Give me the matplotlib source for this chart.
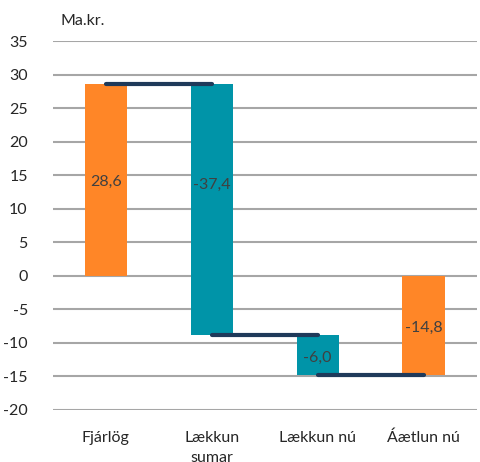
import matplotlib.pyplot as plt
import numpy as np

plt.rcParams['font.family'] = ['Lato', 'DejaVu Sans']
plt.rcParams['axes.unicode_minus'] = False

categories = ['Fjárlög', 'Lækkun\nsumar', 'Lækkun nú', 'Áætlun nú']
values = [28.6, -37.4, -6.0, -14.8]
is_total = [True, False, False, True]
labels = ['28,6', '-37,4', '-6,0', '-14,8']
label_y = [14.0, 13.6, -12.2, -7.8]

orange = '#FF8627'
teal = '#0094A8'
navy = '#1F3A5A'

# waterfall bottoms
bottoms = []
level = 0
for v, t in zip(values, is_total):
    if t:
        bottoms.append(0)
        level = v
    else:
        bottoms.append(level)
        level = level + v
ends = [b + v for b, v in zip(bottoms, values)]
colors = [orange if t else teal for t in is_total]

fig = plt.figure(figsize=(4.8, 4.62), dpi=100)
ax = fig.add_axes([0.110, 0.1126, 0.883, 0.7985])

x = np.arange(len(categories))
ax.bar(x, values, bottom=bottoms, width=0.4, color=colors, zorder=2)

# connector lines
for i in range(len(x) - 1):
    ax.plot([x[i], x[i + 1]], [ends[i], ends[i]], color=navy, lw=3,
            solid_capstyle='round', zorder=3)

for xi, ly, lab in zip(x, label_y, labels):
    ax.text(xi, ly, lab, ha='center', va='center', fontsize=11.5, color='#404040', zorder=4)

ax.set_ylim(-20, 35)
ax.set_xlim(-0.5, 3.5)
ax.set_yticks(range(-20, 36, 5))
ax.yaxis.grid(True, color='#A6A6A6', lw=1.5, zorder=0)
ax.set_axisbelow(True)
ax.set_xticks(x)
ax.set_xticklabels(categories, fontsize=11.5, color='#262626', linespacing=1.6)
ax.tick_params(axis='both', length=0, labelsize=11.5, colors='#262626')
ax.tick_params(axis='x', pad=15)
ax.tick_params(axis='y', pad=18)
for s in ax.spines.values():
    s.set_visible(False)

fig.text(0.125, 0.955, 'Ma.kr.', fontsize=11.5, color='#262626', va='center')

fig.savefig('out.png', dpi=100)
